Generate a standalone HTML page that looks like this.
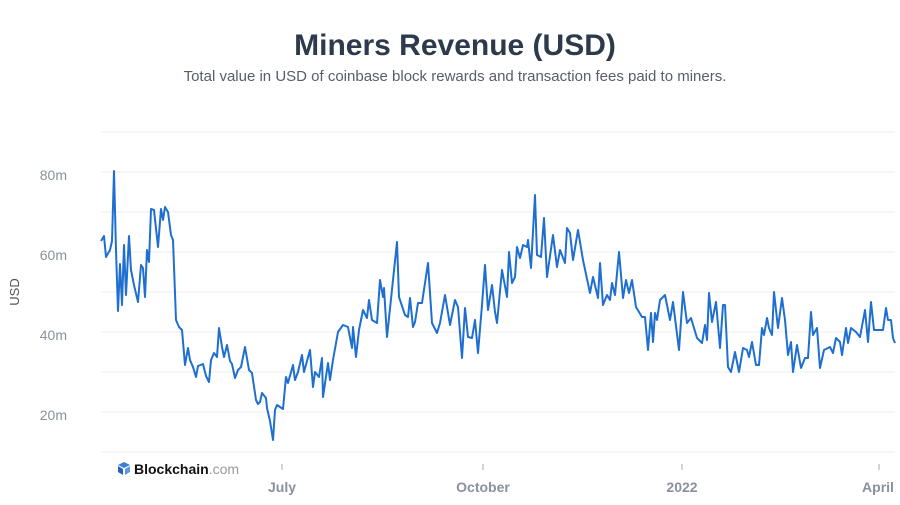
<!DOCTYPE html>
<html><head><meta charset="utf-8"><style>
body{margin:0;background:#fff;width:900px;height:500px;overflow:hidden;font-family:"Liberation Sans",sans-serif}
</style></head><body>
<svg width="900" height="500" xmlns="http://www.w3.org/2000/svg" font-family="Liberation Sans, sans-serif">
<text x="455" y="55" text-anchor="middle" font-size="30" font-weight="bold" fill="#2c3a4b">Miners Revenue (USD)</text>
<text x="455" y="81" text-anchor="middle" font-size="15" fill="#555e6b">Total value in USD of coinbase block rewards and transaction fees paid to miners.</text>
<g stroke="#ececec" stroke-width="1">
<line x1="101" x2="895" y1="132" y2="132"/><line x1="101" x2="895" y1="172" y2="172"/><line x1="101" x2="895" y1="212" y2="212"/><line x1="101" x2="895" y1="252" y2="252"/><line x1="101" x2="895" y1="292" y2="292"/><line x1="101" x2="895" y1="332" y2="332"/><line x1="101" x2="895" y1="372" y2="372"/><line x1="101" x2="895" y1="412" y2="412"/><line x1="101" x2="895" y1="452" y2="452"/>
</g>
<g font-size="14" fill="#8a919c" text-anchor="end">
<text x="67" y="180">80m</text><text x="67" y="260">60m</text><text x="67" y="340">40m</text><text x="67" y="420">20m</text>
</g>
<text transform="translate(19,292) rotate(-90)" text-anchor="middle" font-size="13" fill="#555">USD</text>
<g stroke="#aaa" stroke-width="1"><line x1="282" x2="282" y1="464" y2="470"/><line x1="483" x2="483" y1="464" y2="470"/><line x1="682" x2="682" y1="464" y2="470"/><line x1="879" x2="879" y1="464" y2="470"/></g>
<g font-size="14" fill="#8a919c" text-anchor="middle" font-weight="bold">
<text x="282" y="492">July</text><text x="483" y="492">October</text><text x="682" y="492">2022</text><text x="878" y="492">April</text>
</g>
<g transform="translate(118,462)"><polygon points="6,0 12,3 6,6 0,3" fill="#3d7fd4"/><polygon points="0,4 5,7 5,13 0,10" fill="#2463b8"/><polygon points="12,4 7,7 7,13 12,10" fill="#5b9be6"/></g>
<text x="134" y="474" font-size="14" font-weight="bold" fill="#111">Blockchain<tspan font-weight="normal" fill="#999">.com</tspan></text>
<polyline fill="none" stroke="#1f6fd1" stroke-width="2" stroke-linejoin="round" points="
101,241 104,236 106,257 110,250 112,241 114,171 116,250 118,311 120,264 122,305 124,245 126,295 129,236 131,270 134,285 138,302 141,265 143,268 145,297 147,250 149,262 151,209 154,210 158,247 161,209 163,220 165,207 168,212 171,235 173,240 176,320 179,327 182,330 185,365 188,348 190,360 193,367 196,377 198,366 203,364 206,376 209,382 211,360 214,353 217,357 219,328 222,347 224,357 227,345 230,361 232,364 235,378 238,370 241,367 245,347 249,370 252,373 256,400 258,404 260,402 262,393 266,398 267,408 270,421 273,440 275,410 277,405 280,407
283,409 286,377 288,383 293,365 295,380 298,372 302,355 304,372 310,350 313,387 315,372 319,377 322,358 323,397 328,363 330,380 333,360 338,332 343,325 348,327 352,348 353,327 356,357 359,330 363,310 367,318 369,300 372,320 377,323 380,280 383,297 384,288 387,337 393,280 397,242 399,297 405,315 408,317 410,298 413,327 415,322 418,303 422,303 428,263 432,323 437,333 440,323 445,295 450,325 455,300 458,307 462,358 465,308 468,337 472,338 475,320 478,353 482,305 485,265 488,310 492,285 495,312 497,323 502,270 507,297 509,252 512,283 515,277 517,247 520,258 523,245 527,247 528,240 531,268 535,195 537,255 541,257 544,218 547,277 553,235 557,267 560,250 565,263 567,228 570,233 573,260 578,230 583,260 590,293 593,277 598,298
600,263 603,305 607,295 610,300 612,283 615,295 619,252 623,298 626,280 629,293 632,280 636,307 642,317 645,317 648,350 651,313 653,342 655,313 657,320 660,300 665,295 670,320 673,302 675,318 679,350 683,292 687,323 691,318 697,338 702,343 705,325 707,340 709,293 712,322 716,302 720,348 723,305 725,305 728,367 731,372 735,352 739,372 743,348 747,350 749,357 752,342 756,365 759,365 762,328 764,335 767,318 769,328 772,335 774,292 778,328 782,298 785,320 788,355 791,342 793,372 797,345 801,368 805,358 808,358 811,312 813,335 817,328 820,368 824,350 830,347 833,353 836,338 840,342 842,355 846,328 848,343 851,328 856,332 860,337 865,310 868,342 871,302 874,330 879,330 883,330 886,308 888,320 891,320 893,338 895,343"/>
</svg>
</body></html>
